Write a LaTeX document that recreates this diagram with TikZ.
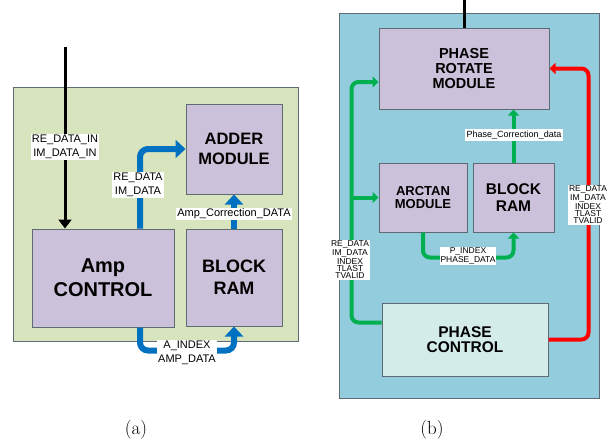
\documentclass[tikz,border=0pt]{standalone}
\usepackage{fontspec}
\setsansfont{Liberation Sans}
\usepackage{xcolor}
\usepackage{tikz}
\usetikzlibrary{arrows.meta}

\definecolor{panelgreen}{HTML}{D7E4BD}
\definecolor{panelblue}{HTML}{93CDDD}
\definecolor{boxlilac}{HTML}{CCC1DA}
\definecolor{boxcyan}{HTML}{D3EBE9}
\definecolor{linegray}{HTML}{5F6B73}
\definecolor{busblue}{HTML}{0070C0}
\definecolor{busgreen}{HTML}{00B050}
\definecolor{busred}{HTML}{FF0000}

\begin{document}
\begin{tikzpicture}[x=1pt, y=-1pt,
    panel/.style={draw=linegray, line width=1pt},
    block/.style={draw=linegray, line width=1pt, fill=boxlilac, font=\sffamily\bfseries, align=center, inner sep=0pt},
    lab/.style={fill=white, inner sep=1pt, font=\sffamily, align=center},
    bluebus/.style={draw=busblue, line width=6pt, rounded corners=8pt, -{Triangle[length=10pt,width=18pt]}},
    greenbus/.style={draw=busgreen, line width=4pt, rounded corners=7pt, -{Triangle[length=6pt,width=11pt]}},
    redbus/.style={draw=busred, line width=4pt, rounded corners=7pt, -{Triangle[length=6pt,width=11pt]}},
    feed/.style={draw=black, line width=3pt}
  ]
    \useasboundingbox (0,0) rectangle (610,442);

    % (a) amplitude correction
    \draw[panel, fill=panelgreen] (13,87) rectangle (298,341);
    \node[block, minimum width=142pt, minimum height=98pt, font=\sffamily\bfseries\fontsize{20}{24}\selectfont] (amp) at (103,278) {Amp\\CONTROL};
    \node[block, minimum width=96pt, minimum height=90pt, font=\sffamily\bfseries\fontsize{16.5}{20}\selectfont] (adder) at (234,149) {ADDER\\MODULE};
    \node[block, minimum width=96pt, minimum height=97pt, font=\sffamily\bfseries\fontsize{18}{22}\selectfont] (ramA) at (234,277.5) {BLOCK\\RAM};

    \coordinate (inA) at (65,47);
    \draw[feed, -{Triangle[length=9pt,width=13pt]}] (inA) -- (inA |- amp.north);
    \draw[bluebus] ([xshift=37pt]amp.north) |- (adder.west);
    \draw[bluebus] (ramA.north) -- (adder.south);
    \draw[bluebus] ([xshift=37pt]amp.south) -- ++(0,23) -| (ramA.south);

    \node[lab, font=\sffamily\fontsize{11}{13.5}\selectfont] (inLab) at (65,147) {RE\_DATA\_IN\\IM\_DATA\_IN};
    \node[lab, font=\sffamily\fontsize{11}{13.5}\selectfont] (dataLab) at (138,185) {RE\_DATA\\IM\_DATA};
    \node[lab, font=\sffamily\fontsize{11}{13.5}\selectfont] (corrLab) at (234,214) {Amp\_Correction\_DATA};
    \node[lab, font=\sffamily\fontsize{11}{13.5}\selectfont] (idxLab) at (187,353) {A\_INDEX\\AMP\_DATA};

    % (b) phase correction
    \draw[panel, fill=panelblue] (339,13) rectangle (599,398);
    \node[block, minimum width=170pt, minimum height=81pt, font=\sffamily\bfseries\fontsize{14.5}{15}\selectfont] (rotate) at (464,68.5) {PHASE\\ROTATE\\MODULE};
    \node[block, minimum width=88pt, minimum height=69pt, font=\sffamily\bfseries\fontsize{13}{13}\selectfont] (arctan) at (423,197.5) {ARCTAN\\MODULE};
    \node[block, minimum width=81pt, minimum height=69pt, font=\sffamily\bfseries\fontsize{15.5}{17}\selectfont] (ramB) at (513.5,197.5) {BLOCK\\RAM};
    \node[block, fill=boxcyan, minimum width=166pt, minimum height=73pt, font=\sffamily\bfseries\fontsize{15.5}{15.5}\selectfont] (pctrl) at (465,339.5) {PHASE\\CONTROL};

    \coordinate (inB) at (464,0);
    \draw[feed] (inB) -- (rotate.north);
    \draw[greenbus] (ramB.north) -- (ramB.north |- rotate.south);
    \draw[greenbus] ([yshift=17pt]pctrl.west) -- ++(-30,0) |- ([yshift=-13.5pt]rotate.west);
    \draw[greenbus] ([xshift=-27pt]arctan.west) -- (arctan.west);
    \draw[greenbus] (arctan.south) -- ++(0,25) -| (ramB.south);
    \draw[redbus] (pctrl.east) -- ++(40,0) |- (rotate.east);

    \node[lab, inner sep=1.5pt, font=\sffamily\fontsize{9}{10}\selectfont] (phLab) at (514,135) {Phase\_Correction\_data};
    \node[lab, font=\sffamily\fontsize{8.5}{7.4}\selectfont] (busLab) at (350,260) {RE\_DATA\\IM\_DATA\\INDEX\\TLAST\\TVALID};
    \node[lab, font=\sffamily\fontsize{8.5}{7.4}\selectfont] (retLab) at (588,205) {RE\_DATA\\IM\_DATA\\INDEX\\TLAST\\TVALID};
    \node[lab, font=\sffamily\fontsize{8.5}{8.2}\selectfont] (pidxLab) at (468,256) {P\_INDEX\\PHASE\_DATA};

    % captions
    \node[font=\fontsize{19}{22}\selectfont] (capA) at (136,430) {(a)};
    \node[font=\fontsize{19}{22}\selectfont] (capB) at (432,430) {(b)};
\end{tikzpicture}
\end{document}
